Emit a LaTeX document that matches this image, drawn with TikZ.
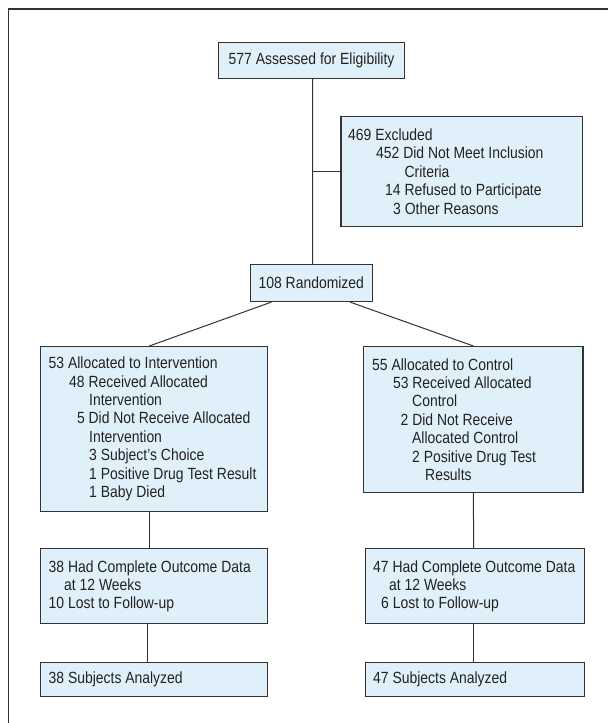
\documentclass[tikz,border=0pt]{standalone}
\usepackage{fontspec}
\setmainfont[FakeStretch=0.86]{Liberation Sans}
\usetikzlibrary{calc}
\definecolor{boxfill}{HTML}{DFF0FA}
\definecolor{boxline}{HTML}{333333}
\definecolor{txtcol}{HTML}{222222}
\tikzset{
  box/.style={draw=boxline, fill=boxfill, line width=1.1pt, anchor=north west, inner sep=0pt},
  txt/.style={inner sep=0pt, align=left, text=txtcol, font={\fontsize{16.2}{18.4}\selectfont}},
  ctxt/.style={inner sep=0pt, align=center, text=txtcol, font={\fontsize{16.2}{18.4}\selectfont}},
  link/.style={draw=boxline, line width=1pt},
  frame/.style={draw=boxline, line width=1.3pt}
}
\begin{document}
\begin{tikzpicture}[x=1pt,y=-1pt]
\useasboundingbox (0,0) rectangle (608,723);
\fill[white] (0,0) rectangle (608,723);
\draw[frame] (608,9) -- (8.5,9) -- (8.5,723);

% boxes
\node[box, minimum width=186pt, minimum height=36pt] (A) at (218,41.7) {};
\node[box, minimum width=241.2pt, minimum height=110pt] (E) at (340.4,116) {};
\node[box, minimum width=121.5pt, minimum height=37pt] (R) at (250,264) {};
\node[box, minimum width=226.8pt, minimum height=164.7pt] (L1) at (40,346) {};
\node[box, minimum width=219.1pt, minimum height=146pt] (R1) at (363.3,346) {};
\node[box, minimum width=226.8pt, minimum height=75pt] (L2) at (40,548.3) {};
\node[box, minimum width=219.1pt, minimum height=75pt] (R2) at (364.5,548.3) {};
\node[box, minimum width=226.8pt, minimum height=34pt] (L3) at (40,661.5) {};
\node[box, minimum width=219.1pt, minimum height=34pt] (R3) at (364.5,661.5) {};

% texts
\node[ctxt] (At) at (A.center) {577 Assessed for Eligibility};
\node[ctxt] (Rt) at (R.center) {108 Randomized};
\node[txt, anchor=west] (Et) at ([xshift=7.6pt]E.west) {469 Excluded\\
\hspace*{28pt}452 Did Not Meet Inclusion\\
\hspace*{56.4pt}Criteria\\
\hspace*{37pt}14 Refused to Participate\\
\hspace*{45pt}3 Other Reasons};
\node[txt, anchor=west] (L1t) at ([xshift=8.5pt]L1.west) {53 Allocated to Intervention\\
\hspace*{20.5pt}48 Received Allocated\\
\hspace*{40.5pt}Intervention\\
\hspace*{28.3pt}5 Did Not Receive Allocated\\
\hspace*{40.5pt}Intervention\\
\hspace*{40.5pt}3 Subject’s Choice\\
\hspace*{40.5pt}1 Positive Drug Test Result\\
\hspace*{40.5pt}1 Baby Died};
\node[txt, anchor=west] (R1t) at ([xshift=8.7pt]R1.west) {55 Allocated to Control\\
\hspace*{20.8pt}53 Received Allocated\\
\hspace*{40pt}Control\\
\hspace*{28.5pt}2 Did Not Receive\\
\hspace*{40pt}Allocated Control\\
\hspace*{40pt}2 Positive Drug Test\\
\hspace*{53pt}Results};
\node[txt, anchor=west] (L2t) at ([xshift=8.5pt]L2.west) {38 Had Complete Outcome Data\\
\hspace*{15.5pt}at 12 Weeks\\
10 Lost to Follow-up};
\node[txt, anchor=west] (R2t) at ([xshift=8.5pt]R2.west) {47 Had Complete Outcome Data\\
\hspace*{16pt}at 12 Weeks\\
\hspace*{8pt}6 Lost to Follow-up};
\node[txt, anchor=west] (L3t) at ([xshift=8.5pt]L3.west) {38 Subjects Analyzed};
\node[txt, anchor=west] (R3t) at ([xshift=8.5pt]R3.west) {47 Subjects Analyzed};

% connectors
\draw[link] ([xshift=1pt]A.south) -- ([xshift=1.2pt]R.north);
\coordinate (J) at ([xshift=1pt]A.south |- E.west);
\draw[link] (J) -- (E.west);
\draw[link] ([xshift=21.4pt]R.south west) -- ([xshift=109.3pt]L1.north west);
\draw[link] ([xshift=-22.5pt]R.south east) -- (R1.north);
\draw[link] ([xshift=-4pt]L1.south) -- ([xshift=-4pt]L2.north);
\draw[link] (R1.south) -- ([xshift=-1pt]R2.north);
\draw[link] ([xshift=-6pt]L2.south) -- ([xshift=-6pt]L3.north);
\draw[link] ([xshift=-1pt]R2.south) -- ([xshift=-1pt]R3.north);
\end{tikzpicture}
\end{document}
